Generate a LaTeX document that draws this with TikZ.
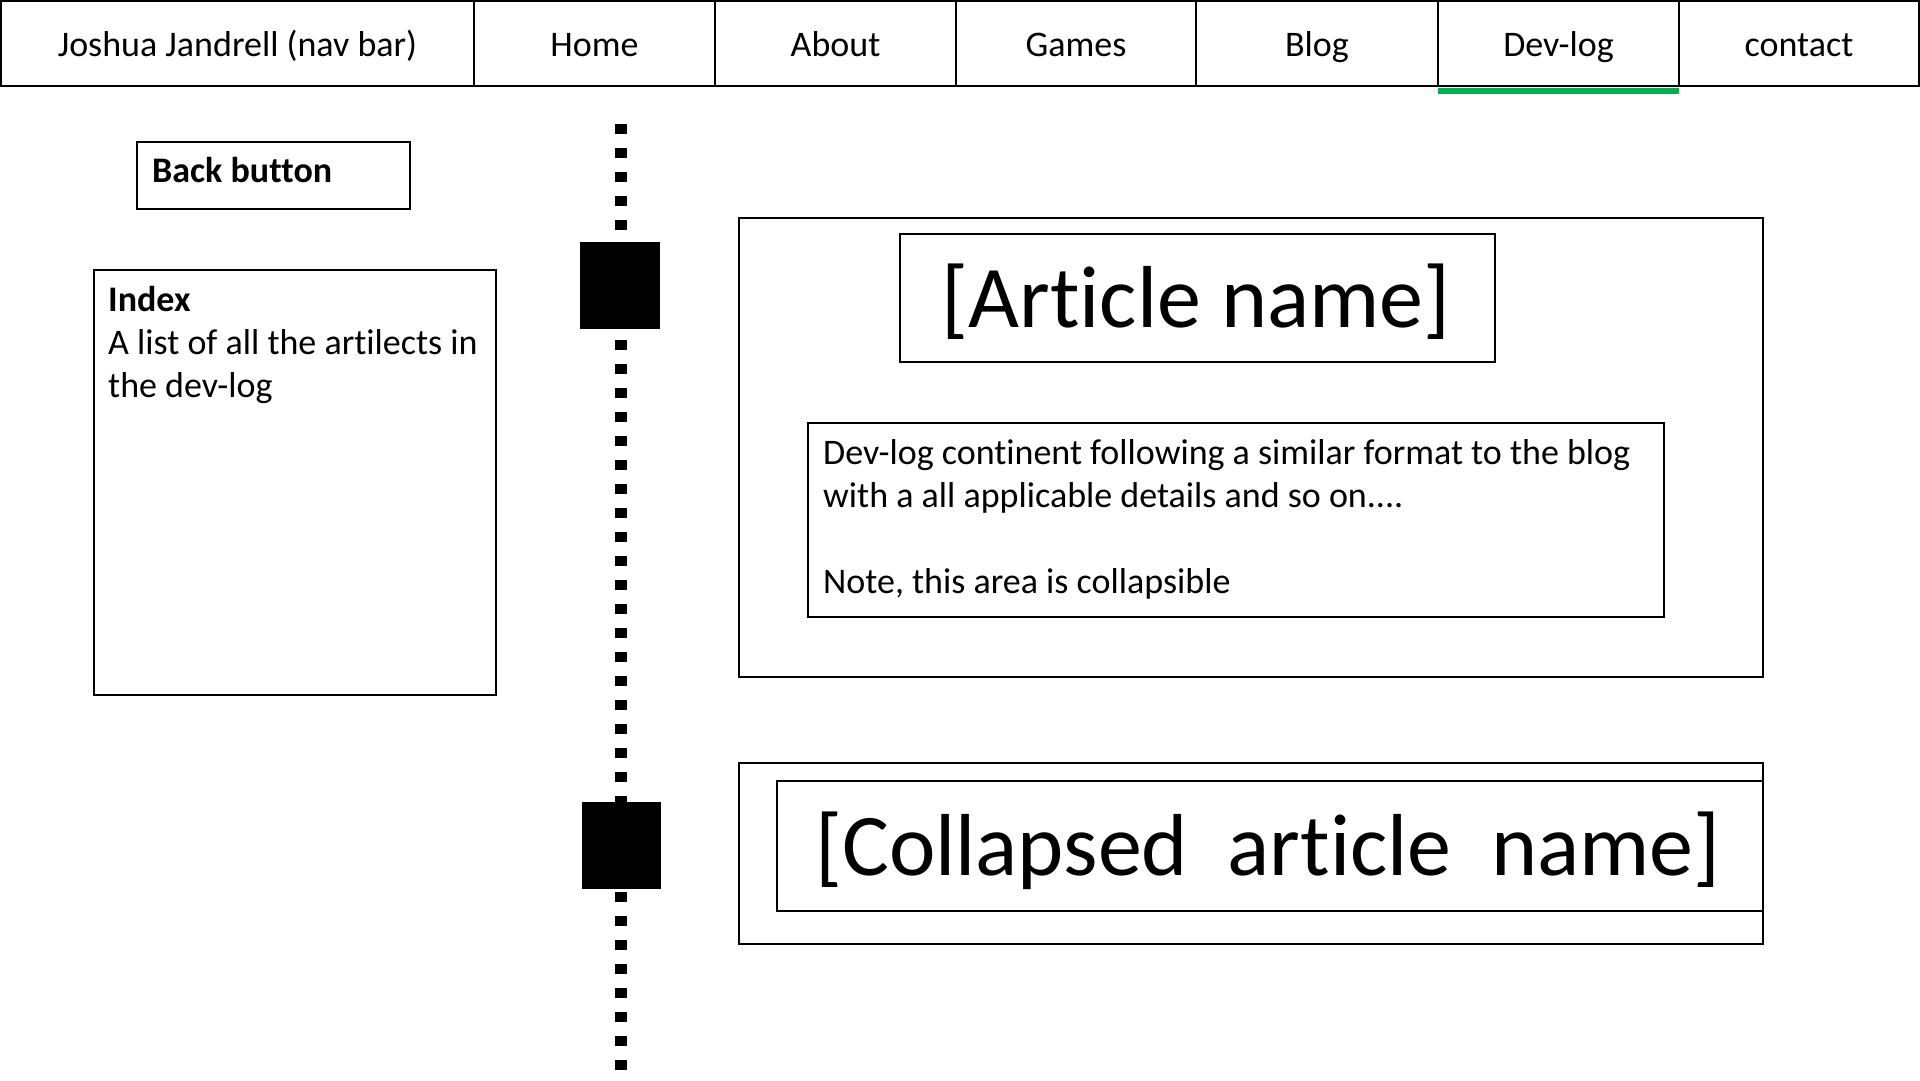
\documentclass[tikz,border=0pt]{standalone}
\usepackage{fontspec}
\setmainfont{Carlito}[Ligatures={NoCommon}]
\definecolor{ulgreen}{RGB}{0,176,80}
\tikzset{
  box/.style={draw, line width=2pt, rectangle, inner sep=0pt, anchor=north west},
  navcell/.style={draw, line width=2pt, rectangle, inner sep=0pt, minimum height=85pt,
    text height=32pt, text depth=6pt, font=\fontsize{36}{43.2}\selectfont},
  body/.style={inner sep=0pt, anchor=base west, font=\fontsize{36}{43.2}\selectfont},
  bodybold/.style={body, font=\fontsize{36}{43.2}\selectfont\bfseries},
  bigtitle/.style={inner sep=0pt, anchor=base, font=\fontsize{88}{100}\selectfont},
  timeline/.style={line width=12pt, dash pattern=on 10pt off 14pt},
  marker/.style={fill=black, inner sep=0pt, minimum width=80pt, minimum height=87pt},
}
\begin{document}
\begin{tikzpicture}[x=1pt, y=-1pt]
\useasboundingbox[fill=white] (0,0) rectangle (1920,1080);

% nav bar
\node[navcell, minimum width=473pt] (brand)   at (237.5,43.5) {Joshua Jandrell (nav bar)};
\node[navcell, minimum width=241pt] (home)    at (594.5,43.5) {Home};
\node[navcell, minimum width=241pt] (about)   at (835.5,43.5) {About};
\node[navcell, minimum width=240pt] (games)   at (1076,43.5) {Games};
\node[navcell, minimum width=242pt] (blog)    at (1317,43.5) {Blog};
\node[navcell, minimum width=241pt] (devlog)  at (1558.5,43.5) {Dev-log};
\node[navcell, minimum width=240pt] (contact) at (1799,43.5) {contact};
\node[fill=ulgreen, inner sep=0pt, minimum width=241pt, minimum height=6pt, anchor=north]
  (uline) at ([yshift=-1pt]devlog.south) {};

% left column
\node[box, minimum width=273pt, minimum height=67pt] (back) at (136,141) {};
\node[bodybold] (backtxt) at (152,182.5) {Back button};

\node[box, minimum width=402pt, minimum height=425pt] (index) at (93,269) {};
\node[bodybold] (idx1) at (108,311) {Index};
\node[body] (idx2) at (108,354) {A list of all the artilects in};
\node[body] (idx3) at (108,397) {the dev-log};

% timeline
\coordinate (ltop) at (621,124);
\coordinate (lbot) at (621,1073);
\draw[timeline] (ltop) -- (lbot);
\node[marker] (m1) at (620,285.5) {};
\node[marker, minimum width=79pt] (m2) at (621.5,845.5) {};

% article
\node[box, minimum width=1024pt, minimum height=459pt] (art) at (738,217) {};
\node[box, minimum width=595pt, minimum height=128pt] (artname) at (899,233) {};
\node[bigtitle] (artnametxt) at (1196,327) {[Article name]};
\node[box, minimum width=856pt, minimum height=194pt] (content) at (807,422) {};
\node[body] (c1) at (823,464) {Dev-log continent following a similar format to the blog};
\node[body] (c2) at (823,507) {with a all applicable details and so on....};
\node[body] (c3) at (823,593) {Note, this area is collapsible};

% collapsed article
\node[box, minimum width=1024pt, minimum height=181pt] (col) at (738,762) {};
\node[box, minimum width=986pt, minimum height=130pt] (colname) at (776,780) {};
\node[bigtitle] (colnametxt) at (1268,875.5) {[Collapsed\ \ article\ \ name]};
\end{tikzpicture}
\end{document}
